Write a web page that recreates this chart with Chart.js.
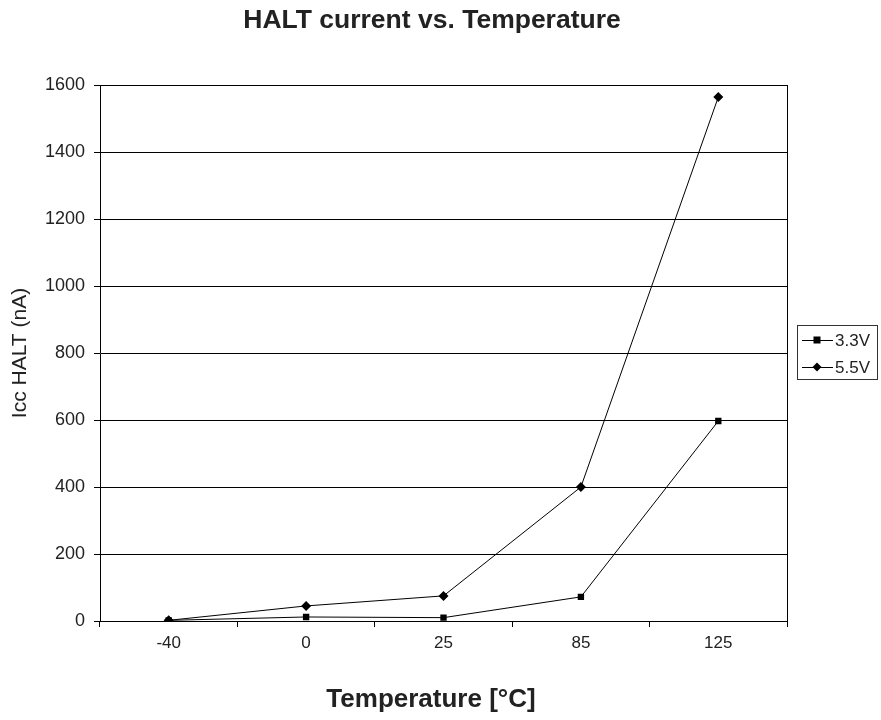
<!DOCTYPE html>
<html>
<head>
<meta charset="utf-8">
<script src="https://cdn.jsdelivr.net/npm/chart.js@4"></script>
<style>
  html, body { margin: 0; padding: 0; background: #fff; }
  #wrap { width: 881px; height: 720px; }
</style>
</head>
<body>
<div id="wrap"><canvas id="chart"></canvas></div>
<script>
// datos
const temperaturas = ['-40', '0', '25', '85', '125'];
const serie33 = [2, 12, 10, 72, 597];
const serie55 = [2, 45, 75, 400, 1564];
const yTicks = [0, 200, 400, 600, 800, 1000, 1200, 1400, 1600];

const titulo = 'HALT current vs. Temperature';
const tituloX = 'Temperature [°C]';

const FUENTE = "'Liberation Sans', Arial, sans-serif";
const TEXTO = '#222';

// titulos, leyenda con marco y borde derecho del area de trazado
const extras = {
    id: 'extras',
    afterDraw(chart) {
        const ctx = chart.ctx;
        const a = chart.chartArea;
        ctx.save();
        ctx.strokeStyle = '#000';
        ctx.lineWidth = 1;
        ctx.beginPath();
        ctx.moveTo(Math.round(a.right) + 0.5, a.top);
        ctx.lineTo(Math.round(a.right) + 0.5, a.bottom);
        ctx.stroke();

        // titulos
        ctx.fillStyle = TEXTO;
        ctx.textAlign = 'center';
        ctx.textBaseline = 'alphabetic';
        ctx.font = 'bold 26.5px ' + FUENTE;
        ctx.fillText(titulo, 432, 28);
        ctx.font = 'bold 26px ' + FUENTE;
        ctx.fillText(tituloX, 431, 707);

        // marco de la leyenda
        const bx = 797.5, by = 325.5, bw = 80, bh = 54;
        ctx.strokeStyle = '#333';
        ctx.strokeRect(bx, by, bw, bh);

        ctx.textAlign = 'left';
        ctx.font = '17px ' + FUENTE;
        ctx.textBaseline = 'middle';
        chart.data.datasets.forEach((ds, i) => {
            const y = 340 + i * 27;
            ctx.strokeStyle = '#000';
            ctx.beginPath();
            ctx.moveTo(802, y + 0.5);
            ctx.lineTo(833, y + 0.5);
            ctx.stroke();
            ctx.fillStyle = '#000';
            if (ds.pointStyle === 'rect') {
                ctx.fillRect(813.5, y - 3.5, 7, 7);
            } else {
                ctx.beginPath();
                ctx.moveTo(817, y - 4.5);
                ctx.lineTo(821.5, y);
                ctx.lineTo(817, y + 4.5);
                ctx.lineTo(812.5, y);
                ctx.closePath();
                ctx.fill();
            }
            ctx.fillStyle = TEXTO;
            ctx.fillText(ds.label, 835, y + 1);
        });
        ctx.restore();
    }
};

new Chart(document.getElementById('chart'), {
    type: 'line',
    data: {
        labels: temperaturas,
        datasets: [
            {
                label: '3.3V',
                data: serie33,
                borderColor: '#000',
                backgroundColor: '#000',
                borderWidth: 1,
                pointStyle: 'rect',
                pointRadius: 4.5,
                pointBorderWidth: 0,
                tension: 0
            },
            {
                label: '5.5V',
                data: serie55,
                borderColor: '#000',
                backgroundColor: '#000',
                borderWidth: 1,
                pointStyle: 'rectRot',
                pointRadius: 5,
                pointBorderWidth: 0,
                tension: 0
            }
        ]
    },
    options: {
        responsive: true,
        maintainAspectRatio: false,
        animation: false,
        layout: { padding: { left: 0, right: 94, top: 85, bottom: 0 } },
        plugins: {
            legend: { display: false },
            tooltip: { enabled: false },
            title: { display: false }
        },
        scales: {
            x: {
                type: 'category',
                offset: true,
                afterFit(scale) { scale.height = 99; },
                grid: {
                    offset: true,
                    drawOnChartArea: false,
                    drawTicks: true,
                    tickLength: 6,
                    color: '#000',
                    lineWidth: 1
                },
                border: { color: '#000', width: 1 },
                ticks: {
                    color: TEXTO,
                    font: { family: FUENTE, size: 17 },
                    padding: 6,
                    maxRotation: 0
                }
            },
            y: {
                min: 0,
                max: 1600,
                afterFit(scale) { scale.width = 100; },
                afterBuildTicks(scale) { scale.ticks = yTicks.map(v => ({ value: v })); },
                grid: {
                    color: '#000',
                    lineWidth: 1,
                    drawTicks: true,
                    tickLength: 6
                },
                border: { color: '#000', width: 1 },
                ticks: {
                    color: TEXTO,
                    font: { family: FUENTE, size: 18 },
                    padding: 9,
                    callback: v => String(v)
                },
                title: {
                    display: true,
                    text: 'Icc HALT (nA)',
                    color: TEXTO,
                    font: { family: FUENTE, size: 21 },
                    padding: { top: 8, bottom: 0 }
                }
            }
        }
    },
    plugins: [extras]
});
</script>
</body>
</html>
